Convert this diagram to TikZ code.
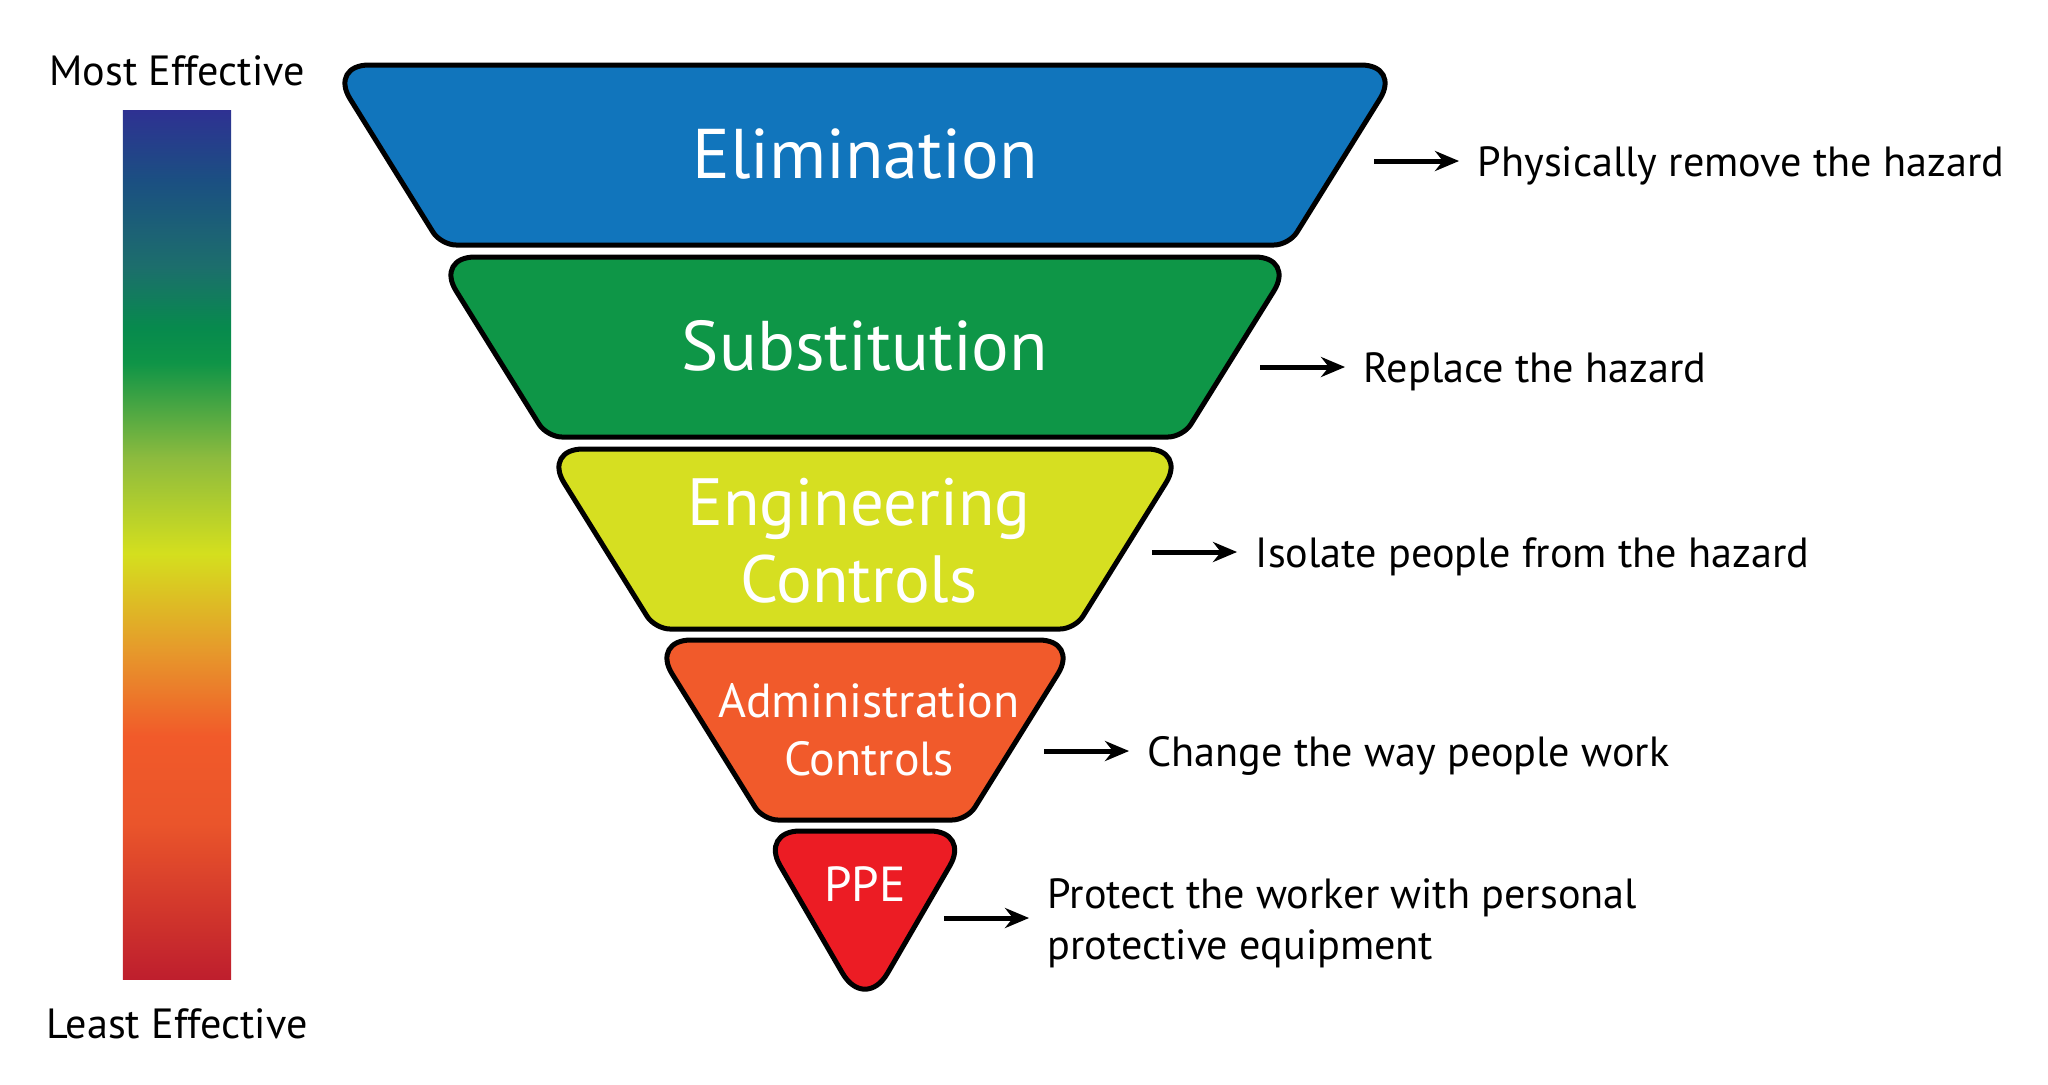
\documentclass[tikz,border=0pt]{standalone}
\usepackage{fontspec}
\setmainfont{PT Sans}
\usepackage{tikz}
\usetikzlibrary{
	arrows.meta,
	positioning
}
\usepackage{xcolor}

\definecolor{elimblue}{RGB}{17,117,188}
\definecolor{substgreen}{RGB}{14,150,71}
\definecolor{englime}{RGB}{214,223,33}
\definecolor{adminorange}{RGB}{241,90,43}
\definecolor{ppered}{RGB}{236,28,36}

\definecolor{effblue}{RGB}{46,49,146}
\definecolor{effnavy}{RGB}{27,79,130}
\definecolor{effteal}{RGB}{28,110,108}
\definecolor{effgreen}{RGB}{7,138,77}
\definecolor{effgreenb}{RGB}{14,148,71}
\definecolor{efflime}{RGB}{141,187,62}
\definecolor{effyellow}{RGB}{212,223,30}
\definecolor{efforange}{RGB}{230,154,43}
\definecolor{effredorange}{RGB}{241,90,42}
\definecolor{effcoral}{RGB}{234,85,43}
\definecolor{effred}{RGB}{190,30,45}

\pgfdeclareverticalshading{effectiveness}{100bp}{
	color(0bp)=(effred); color(25bp)=(effred);
	color(34bp)=(effcoral); color(39bp)=(effredorange);
	color(44bp)=(efforange); color(49.5bp)=(effyellow);
	color(55bp)=(efflime); color(60.5bp)=(effgreenb);
	color(62.5bp)=(effgreen); color(66bp)=(effteal);
	color(71bp)=(effnavy); color(75bp)=(effblue);
	color(100bp)=(effblue)}

\begin{document}
\begin{tikzpicture}[
		x=0.01cm,
		y=-0.01cm,
		>=Stealth,
		node distance=1.03cm,
		tier/.style={
			draw=black,
			line width=0.05cm
		},
		tierlabel/.style={
			text=white,
			align=center,
			font=\fontsize{20}{22}\selectfont
		},
		smalltier/.style={
			tierlabel,
			font=\fontsize{13.6}{16.5}\selectfont
		},
		note/.style={
			font=\fontsize{12}{14.5}\selectfont,
			inner sep=0pt,
			align=left,
			yshift=-0.05cm
		},
		flow/.style={
			-{Stealth[length=0.24cm,width=0.2cm]},
			line width=0.05cm,
			shorten >=0.18cm
		},
		bar/.style={
			shade,
			shading=effectiveness,
			minimum width=1.08cm,
			minimum height=8.69cm,
			inner sep=0pt
		},
		scalelabel/.style={
			font=\fontsize{12}{14.5}\selectfont,
			inner sep=0pt
		}
		]
		
		\useasboundingbox (0,0) rectangle (2048,1084);
		
		% Effectiveness scale
		\node[bar] (scale) at (177,545) {};
		\node[scalelabel, above=0.23cm of scale] (most) {Most Effective};
		\node[scalelabel, below=0.27cm of scale] (least) {Least Effective};
		
		% Tiers of the inverted pyramid
		\foreach \yt/\ht/\tint in {65/536/elimblue,257/430/substgreen,449/322/englime,640/214/adminorange}
		\filldraw[tier, fill=\tint] (865,\yt) [rounded corners=0.4cm] -- ({865+\ht},\yt) [rounded corners=0.15cm] -- ({753+\ht},{\yt+180}) -- ({977-\ht},{\yt+180}) [rounded corners=0.4cm] -- ({865-\ht},\yt) -- cycle;
		\filldraw[tier, fill=ppered] (865,831) [rounded corners=0.4cm] -- (970,831) [rounded corners=0.45cm] -- (865,1012) [rounded corners=0.4cm] -- (760,831) -- cycle;
		
		% Tier labels
		\node[tierlabel] (elim) at (865,154) {Elimination};
		\node[tierlabel] (subst) at (865,346) {Substitution};
		\node[tierlabel, font=\fontsize{19}{22}\selectfont] (eng) at (859,541) {Engineering\\Controls};
		\node[smalltier] (admin) at (869,730) {Administration\\Controls};
		\node[smalltier, font=\fontsize{14}{16.5}\selectfont] (ppe) at (865,884) {PPE};
		
		% Notes
		\coordinate (elimtail) at (1374,161);
		\node[note, right=of elimtail] (elimnote) {Physically remove the hazard};
		\draw[flow] (elimtail) -- (elimtail -| elimnote.west);
		
		\coordinate (substtail) at (1260,367);
		\node[note, right=of substtail] (substnote) {Replace the hazard};
		\draw[flow] (substtail) -- (substtail -| substnote.west);
		
		\coordinate (engtail) at (1152,552);
		\node[note, right=of engtail] (engnote) {Isolate people from the hazard};
		\draw[flow] (engtail) -- (engtail -| engnote.west);
		
		\coordinate (admintail) at (1044,751);
		\node[note, right=of admintail] (adminnote) {Change the way people work};
		\draw[flow] (admintail) -- (admintail -| adminnote.west);
		
		\coordinate (ppetail) at (944,918);
		\node[note, right=of ppetail] (ppenote) {Protect the worker with personal\\protective equipment};
		\draw[flow] (ppetail) -- (ppetail -| ppenote.west);
		
	\end{tikzpicture}
\end{document}
